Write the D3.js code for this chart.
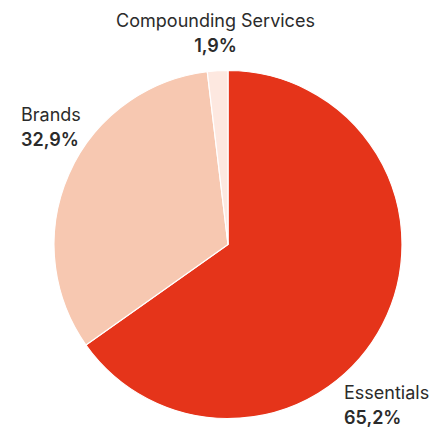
<!DOCTYPE html>
<html>
<head>
<meta charset="utf-8">
<script src="https://cdn.jsdelivr.net/npm/d3@7"></script>
<style>
  body { margin: 0; background: #fff; }
  text { font-family: Inter, "Noto Sans", sans-serif; fill: #2b2b2b; }
</style>
</head>
<body>
<div id="chart"></div>
<script>
// segments, clockwise from 12 o'clock
var categories = ["Essentials", "Brands", "Compounding Services"];
var shares = [65.2, 32.9, 1.9];
var shareLabels = ["65,2%", "32,9%", "1,9%"];
var colors = ["#e5341a", "#f7c8b1", "#fde8e0"];

var width = 445, height = 427;
var cx = 228, cy = 244.5, radius = 174;

// where each label sits (x, baseline of first line, anchor)
var labelPos = [
    { x: 344, y: 399, anchor: "start" },
    { x: 21, y: 121, anchor: "start" },
    { x: 215.5, y: 27, anchor: "middle" }
];

var svg = d3.select("#chart")
    .append("svg")
    .attr("width", width)
    .attr("height", height);

var pie = d3.pie()
    .sort(null)
    .value(function (d) { return d; });

var arc = d3.arc()
    .innerRadius(0)
    .outerRadius(radius);

var g = svg.append("g")
    .attr("transform", "translate(" + cx + "," + cy + ")");

g.selectAll("path")
    .data(pie(shares))
    .enter()
    .append("path")
    .attr("d", arc)
    .attr("fill", function (d, i) { return colors[i]; })
    .attr("stroke", "#fff")
    .attr("stroke-width", 1.2);

// labels
var labels = svg.selectAll("g.label")
    .data(categories)
    .enter()
    .append("g")
    .attr("class", "label");

labels.append("text")
    .attr("x", function (d, i) { return labelPos[i].x; })
    .attr("y", function (d, i) { return labelPos[i].y; })
    .attr("text-anchor", function (d, i) { return labelPos[i].anchor; })
    .style("font-size", "18px")
    .text(function (d) { return d; });

labels.append("text")
    .attr("x", function (d, i) { return labelPos[i].x; })
    .attr("y", function (d, i) { return labelPos[i].y + 25; })
    .attr("text-anchor", function (d, i) { return labelPos[i].anchor; })
    .style("font-size", "18px")
    .style("font-weight", "600")
    .text(function (d, i) { return shareLabels[i]; });
</script>
</body>
</html>
